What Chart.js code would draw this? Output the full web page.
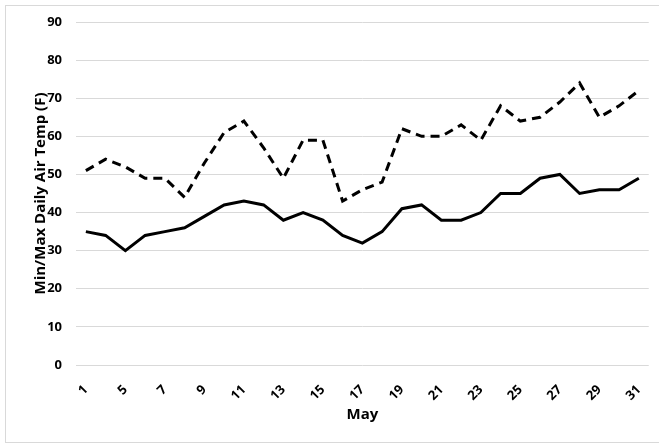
<!DOCTYPE html>
<html>
<head>
<meta charset="utf-8">
<script src="https://cdn.jsdelivr.net/npm/chart.js@4"></script>
<style>
  html, body { margin: 0; padding: 0; background: #fff; }
  #chart { display: block; }
</style>
</head>
<body>
<canvas id="chart" width="659" height="445"></canvas>
<script>
// days of May (day 2 and 4 not in the record)
const days = ['1', '3', '5', '6', '7', '8', '9', '10', '11', '12', '13', '14', '15', '16', '17',
  '18', '19', '20', '21', '22', '23', '24', '25', '26', '27', '28', '29', '30', '31'];
const maxTemp = [51, 54, 52, 49, 49, 44, 53, 61, 64, 57, 49, 59, 59, 43, 46,
  48, 62, 60, 60, 63, 59, 68, 64, 65, 69, 74, 65, 68, 72];
const minTemp = [35, 34, 30, 34, 35, 36, 39, 42, 43, 42, 38, 40, 38, 34, 32,
  35, 41, 42, 38, 38, 40, 45, 45, 49, 50, 45, 46, 46, 49];
const yTicks = [0, 10, 20, 30, 40, 50, 60, 70, 80, 90];

const FONT = '"Open Sans", Lato, sans-serif';

const frame = {
  id: 'frame',
  beforeDraw(chart) {
    const ctx = chart.ctx;
    ctx.save();
    ctx.fillStyle = '#fff';
    ctx.fillRect(0, 0, chart.width, chart.height);
    ctx.strokeStyle = '#d9d9d9';
    ctx.lineWidth = 1;
    ctx.strokeRect(5.5, 5.5, chart.width + 10, 437);
    ctx.restore();
  }
};

new Chart(document.getElementById('chart'), {
  type: 'line',
  data: {
    labels: days,
    datasets: [{
      label: 'Max',
      data: maxTemp,
      borderColor: '#000',
      borderWidth: 3,
      borderDash: [9, 6],
      pointRadius: 0,
      tension: 0,
      fill: false,
    }, {
      label: 'Min',
      data: minTemp,
      borderColor: '#000',
      borderWidth: 3,
      pointRadius: 0,
      tension: 0,
      fill: false,
    }]
  },
  options: {
    responsive: false,
    animation: false,
    layout: { padding: { top: 22, left: 28, right: 7, bottom: 17 } },
    plugins: {
      legend: { display: false },
      tooltip: { enabled: false }
    },
    scales: {
      x: {
        offset: true,
        grid: { display: false },
        border: { display: false },
        ticks: {
          autoSkip: false,
          maxRotation: 45,
          minRotation: 45,
          padding: 9,
          color: '#000',
          font: { family: FONT, size: 13, weight: 'bold' },
          callback: (v, i) => (i % 2 === 0 ? days[i] : '')
        },
        title: {
          display: true,
          text: 'May',
          color: '#000',
          font: { family: FONT, size: 15, weight: 'bold' }
        },
        afterFit: (s) => { s.height = 63; }
      },
      y: {
        min: 0,
        max: 90,
        afterBuildTicks: (s) => { s.ticks = yTicks.map(v => ({ value: v })); },
        grid: { color: '#d9d9d9', lineWidth: 1, drawTicks: false },
        border: { display: false },
        ticks: {
          padding: 14,
          color: '#000',
          font: { family: FONT, size: 13, weight: 'bold' }
        },
        title: {
          display: true,
          text: 'Min/Max Daily Air Temp (F)',
          color: '#000',
          font: { family: FONT, size: 15, weight: 'bold' }
        },
        afterFit: (s) => { s.width = 48; }
      }
    }
  },
  plugins: [frame]
});
</script>
</body>
</html>
